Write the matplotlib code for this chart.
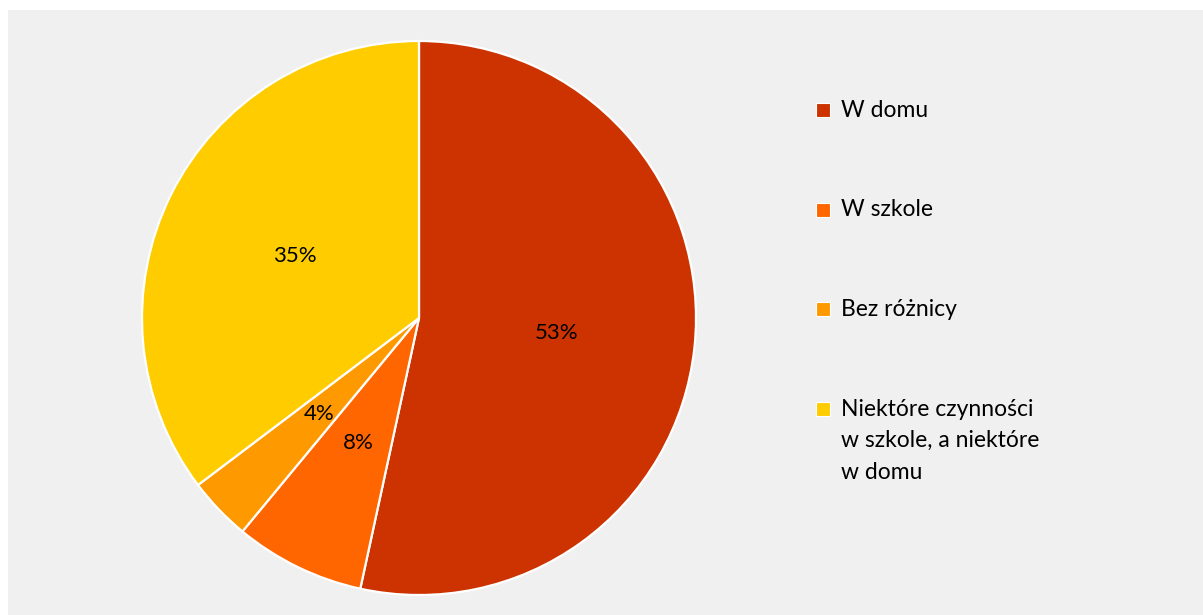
import matplotlib.pyplot as plt
from matplotlib.patches import Rectangle

categories = ["W domu", "W szkole", "Bez różnicy",
              "Niektóre czynności\nw szkole, a niektóre\nw domu"]
values = [53.4, 7.6, 3.7, 35.3]
colors = ["#CC3300", "#FF6600", "#FF9900", "#FFCC00"]

W, H = 1203, 615
plt.rcParams["font.family"] = ["Lato", "DejaVu Sans"]

fig = plt.figure(figsize=(W / 100, H / 100), dpi=100, facecolor="white")

# szare tło obszaru wykresu
fig.patches.append(Rectangle((8 / W, 0), 1 - 8 / W, 605 / H,
                             transform=fig.transFigure, facecolor="#f0f0f0",
                             edgecolor="none", zorder=-1))

cx, cy, r = 419, 318, 277
ax = fig.add_axes([(cx - r) / W, (H - cy - r) / H, 2 * r / W, 2 * r / H])
ax.set_facecolor("none")

wedges, texts, autotexts = ax.pie(
    values, colors=colors, startangle=90, counterclock=False,
    autopct="%1.0f%%", pctdistance=0.5,
    wedgeprops={"edgecolor": "white", "linewidth": 1.6},
    textprops={"fontsize": 16, "color": "black"},
)
ax.set_xlim(-1, 1)
ax.set_ylim(-1, 1)
ax.set_aspect("equal")

# legenda rysowana ręcznie (jak w Excelu)
for i, (lab, col) in enumerate(zip(categories, colors)):
    y = 110 + 99.5 * i
    fig.patches.append(Rectangle(((823 - 7) / W, (H - y - 7) / H), 14 / W, 14 / H,
                                 transform=fig.transFigure, facecolor=col,
                                 edgecolor="white", linewidth=0.8))
    fig.text(841 / W, (H - y + 10) / H, lab, fontsize=16.5, va="top", ha="left",
             linespacing=1.62)

fig.savefig("out.png", dpi=100, facecolor=fig.get_facecolor())
